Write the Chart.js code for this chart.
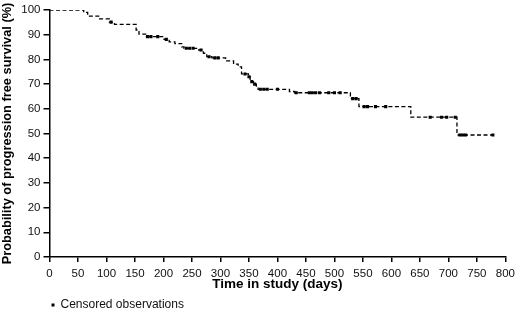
<!DOCTYPE html>
<html>
<head>
<meta charset="utf-8">
<script src="https://cdn.jsdelivr.net/npm/chart.js@4"></script>
<style>
  html, body { margin: 0; padding: 0; background: #fff; }
  #wrap { width: 520px; height: 312px; }
</style>
</head>
<body>
<div id="wrap"><canvas id="kmChart"></canvas></div>
<script>
// step times (days) and survival (%) after each step
var stepDays = [0, 60, 67, 88, 105, 114, 152, 157, 170, 201, 210, 220, 232, 236, 258, 270, 276, 285,
                309, 323, 331, 337, 349, 352, 358, 363, 366, 421, 430, 528, 543, 634, 715, 778];
var survival = [100, 99, 97.5, 96.4, 95.1, 94.2, 91.9, 90.2, 89.2, 88.1, 87.1, 86.4, 85.1, 84.5, 83.8, 82.5, 81.1, 80.6,
                79.4, 78.1, 77.0, 74.1, 73.0, 71.0, 70.0, 69.2, 67.9, 67.0, 66.5, 64.1, 60.9, 56.6, 49.4, 49.4];

// censored observation times (days)
var censorDays = [108, 172, 178, 190, 205, 240, 246, 252, 266, 280, 290, 296, 343, 350, 355, 360,
                  370, 376, 382, 400, 433, 456, 461, 467, 474, 490, 500, 510, 532, 538, 552, 558,
                  572, 590, 668, 688, 697, 712, 720, 725, 730, 778];

var xTicks = { min: 0, max: 800, step: 50 };
var yTicks = { min: 0, max: 100, step: 10 };

document.addEventListener('DOMContentLoaded', function () {
    var fontName = "'Liberation Sans', Arial, Helvetica, sans-serif";

    var curve = stepDays.map(function (d, i) { return { x: d, y: survival[i] }; });

    // level of the curve at a censored time
    function levelAt(day) {
        var v = survival[0];
        for (var i = 0; i < stepDays.length; i++) {
            if (stepDays[i] <= day) v = survival[i];
        }
        return v;
    }
    var censored = censorDays.map(function (d) { return { x: d, y: levelAt(d) }; });

    var ctx = document.getElementById('kmChart').getContext('2d');

    new Chart(ctx, {
        type: 'line',
        data: {
            datasets: [{
                label: 'Survival',
                data: curve,
                stepped: true,
                borderColor: '#000',
                borderWidth: 1.3,
                borderDash: [4, 2.5],
                pointRadius: 0,
                fill: false
            }, {
                label: 'Censored observations',
                data: censored,
                showLine: false,
                pointStyle: 'rect',
                pointRadius: 2.2,
                pointBorderWidth: 0,
                pointBackgroundColor: '#000',
                borderColor: '#000',
                backgroundColor: '#000'
            }]
        },
        options: {
            responsive: true,
            maintainAspectRatio: false,
            animation: false,
            layout: { padding: { top: 10, right: 11, left: 0, bottom: 0 } },
            scales: {
                x: {
                    type: 'linear',
                    min: xTicks.min,
                    max: xTicks.max,
                    ticks: {
                        stepSize: xTicks.step,
                        padding: 5,
                        color: '#111',
                        font: { family: fontName, size: 11.5 }
                    },
                    grid: { drawOnChartArea: false, tickLength: 5, color: '#000', lineWidth: 1.5 },
                    border: { color: '#000', width: 1.5 },
                    title: {
                        display: true,
                        text: 'Time in study (days)',
                        color: '#000',
                        padding: { top: 2, bottom: 5 },
                        font: { family: fontName, size: 13.5, weight: 'bold' }
                    },
                    afterFit: function (scale) { scale.height = 40; }
                },
                y: {
                    min: yTicks.min,
                    max: yTicks.max,
                    ticks: {
                        stepSize: yTicks.step,
                        padding: 3,
                        color: '#111',
                        font: { family: fontName, size: 11.5 }
                    },
                    grid: { drawOnChartArea: false, tickLength: 6, color: '#000', lineWidth: 1.5 },
                    border: { color: '#000', width: 1.5 },
                    title: {
                        display: true,
                        text: 'Probability of progression free survival (%)',
                        color: '#000',
                        padding: { top: 0, bottom: 0 },
                        font: { family: fontName, size: 12.8, weight: 'bold' }
                    },
                    afterFit: function (scale) { scale.width = 49.5; }
                }
            },
            plugins: {
                legend: {
                    position: 'bottom',
                    align: 'start',
                    fullSize: false,
                    maxHeight: 15,
                    labels: {
                        filter: function (item) { return item.datasetIndex === 1; },
                        usePointStyle: true,
                        pointStyle: 'rect',
                        boxWidth: 3,
                        boxHeight: 3,
                        padding: 2,
                        color: '#111',
                        font: { family: fontName, size: 12 }
                    },
                    onClick: function (event) { event.native && event.native.stopPropagation(); }
                },
                tooltip: { enabled: false }
            }
        }
    });
});
</script>
</body>
</html>
